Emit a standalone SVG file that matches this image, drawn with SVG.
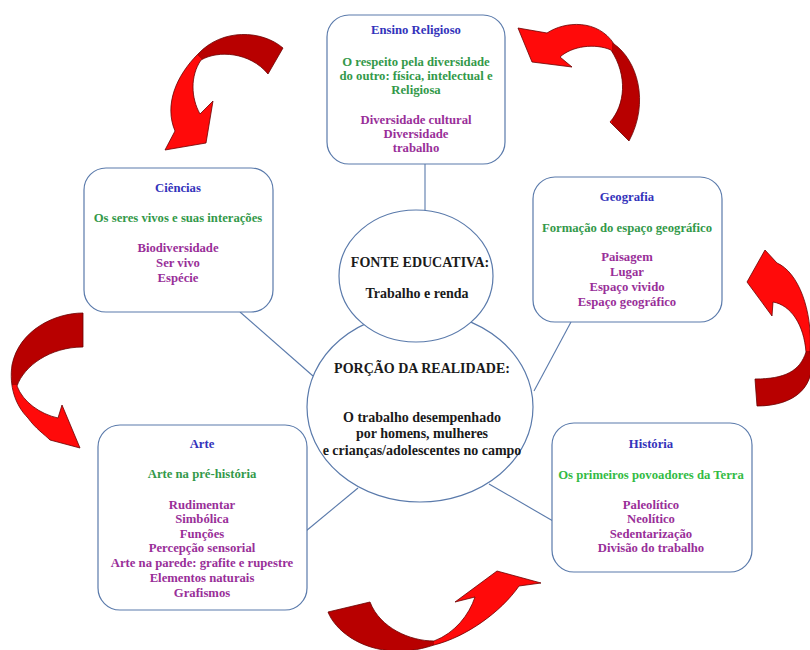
<svg xmlns="http://www.w3.org/2000/svg" width="810" height="650" viewBox="0 0 810 650">
<defs>
<style>
.box{fill:#fff;stroke:#5a7aab;stroke-width:1.2}
.circ{fill:#fff;stroke:#5a7aab;stroke-width:1.2}
.con{stroke:#5a7aab;stroke-width:1.1;fill:none}
text{font-family:"Liberation Serif","Times New Roman",serif;font-weight:bold;text-anchor:middle}
.t{font-size:12.7px;fill:#3333bb}
.g{font-size:12.7px;fill:#33994a}
.g2{font-size:12.7px;fill:#33bb44}
.p{font-size:12.7px;fill:#992f99}
.k{font-size:14px;fill:#1a1a1a}
.arrow{stroke:#6a0000;stroke-width:0.8;stroke-linejoin:round}
</style>
<linearGradient id="a1" gradientUnits="userSpaceOnUse" x1="283" y1="40" x2="180" y2="120">
<stop offset="0" stop-color="#b80000"/><stop offset="0.585" stop-color="#b80000"/><stop offset="0.585" stop-color="#ff0a0a"/><stop offset="1" stop-color="#ff0a0a"/>
</linearGradient>
<linearGradient id="a2" gradientUnits="userSpaceOnUse" x1="518" y1="0" x2="645" y2="0">
<stop offset="0" stop-color="#ff0a0a"/><stop offset="0.74" stop-color="#ff0a0a"/><stop offset="0.74" stop-color="#b80000"/><stop offset="1" stop-color="#b80000"/>
</linearGradient>
<linearGradient id="a3" gradientUnits="userSpaceOnUse" x1="0" y1="250" x2="0" y2="406">
<stop offset="0" stop-color="#ff0a0a"/><stop offset="0.65" stop-color="#ff0a0a"/><stop offset="0.65" stop-color="#b80000"/><stop offset="1" stop-color="#b80000"/>
</linearGradient>
<linearGradient id="a4" gradientUnits="userSpaceOnUse" x1="0" y1="313" x2="0" y2="448">
<stop offset="0" stop-color="#b80000"/><stop offset="0.53" stop-color="#b80000"/><stop offset="0.53" stop-color="#ff0a0a"/><stop offset="1" stop-color="#ff0a0a"/>
</linearGradient>
<linearGradient id="a5" gradientUnits="userSpaceOnUse" x1="328" y1="0" x2="541" y2="0">
<stop offset="0" stop-color="#b80000"/><stop offset="0.5" stop-color="#b80000"/><stop offset="0.5" stop-color="#ff0a0a"/><stop offset="1" stop-color="#ff0a0a"/>
</linearGradient>
</defs>
<rect x="0" y="0" width="810" height="650" fill="#fff"/>

<g id="connectors">
<line class="con" x1="425" y1="164" x2="425" y2="211"/>
<line class="con" x1="240" y1="312" x2="313" y2="376"/>
<line class="con" x1="571" y1="322" x2="534" y2="391"/>
<line class="con" x1="306" y1="531" x2="358" y2="488"/>
<line class="con" x1="553" y1="521" x2="489" y2="484"/>
</g>

<g id="arrows">
<path class="arrow" fill="url(#a1)" d="M 283,48 C 262,30 222,28 198,54 C 176,76 164,105 175,131 L 165,150 L 206,143 L 213,101 L 200,114 C 191,98 190,76 201,60 C 218,50 250,52 268,74 Z"/>
<path class="arrow" fill="url(#a2)" d="M 518,28 L 547,33 C 565,21 598,19 614,44 C 637,60 650,102 629,141 L 610,122 C 625,105 628,76 611,50 C 595,43 572,46 560,57 L 572,67 L 532,62 Z"/>
<path class="arrow" fill="url(#a3)" d="M 765,250 L 747,282 L 772,316 L 773,302 C 791,305 804,325 806,352 C 800,371 785,379 755,379 L 757,406 C 795,406 818,386 810,352 C 813,310 798,272 777,263 Z"/>
<path class="arrow" fill="url(#a4)" d="M 83,313 C 55,313 19,330 12,365 C 9,386 15,405 28,418 C 35,428 45,435 50,440 L 80,448 L 62,405 L 58,418 C 40,414 23,402 17,386 C 24,366 50,347 83,347 Z"/>
<path class="arrow" fill="url(#a5)" d="M 328,612 C 335,630 360,650 395,651 C 410,652 425,648 434,645 C 466,637 501,612 519,586 L 541,583 L 497,571 L 455,602 L 475,597 C 469,615 455,633 434,641 C 410,641 380,628 370,602 Z"/>
</g>

<g id="porcao">
<ellipse class="circ" cx="420" cy="407" rx="113" ry="95"/>
<text class="k" x="422" y="373">PORÇÃO DA REALIDADE:</text>
<text class="k" x="422" y="422">O trabalho desempenhado</text>
<text class="k" x="422" y="438">por homens, mulheres</text>
<text class="k" x="422" y="455">e crianças/adolescentes no campo</text>
</g>

<g id="fonte">
<ellipse class="circ" cx="416" cy="276" rx="77" ry="66"/>
<text class="k" x="420" y="267">FONTE EDUCATIVA:</text>
<text class="k" x="417" y="298">Trabalho e renda</text>
</g>

<g id="ensino">
<rect class="box" x="327" y="15" width="178" height="149" rx="22"/>
<text class="t" x="416" y="34">Ensino Religioso</text>
<text class="g" x="416" y="66">O respeito pela diversidade</text>
<text class="g" x="416" y="80">do outro: física, intelectual e</text>
<text class="g" x="416" y="94">Religiosa</text>
<text class="p" x="416" y="124">Diversidade cultural</text>
<text class="p" x="416" y="138">Diversidade</text>
<text class="p" x="416" y="152">trabalho</text>
</g>

<g id="ciencias">
<rect class="box" x="84" y="168" width="189" height="144" rx="22"/>
<text class="t" x="178" y="192">Ciências</text>
<text class="g" x="178" y="222">Os seres vivos e suas interações</text>
<text class="p" x="178" y="252">Biodiversidade</text>
<text class="p" x="178" y="267">Ser vivo</text>
<text class="p" x="178" y="282">Espécie</text>
</g>

<g id="geografia">
<rect class="box" x="533" y="177" width="189" height="145" rx="22"/>
<text class="t" x="627" y="201">Geografia</text>
<text class="g" x="627" y="232">Formação do espaço geográfico</text>
<text class="p" x="627" y="261">Paisagem</text>
<text class="p" x="627" y="276">Lugar</text>
<text class="p" x="627" y="291">Espaço vivido</text>
<text class="p" x="627" y="306">Espaço geográfico</text>
</g>

<g id="arte">
<rect class="box" x="98" y="425" width="209" height="185" rx="22"/>
<text class="t" x="202" y="448">Arte</text>
<text class="g" x="202" y="478">Arte na pré-história</text>
<text class="p" x="202" y="509">Rudimentar</text>
<text class="p" x="202" y="523">Simbólica</text>
<text class="p" x="202" y="538">Funções</text>
<text class="p" x="202" y="552">Percepção sensorial</text>
<text class="p" x="202" y="567">Arte na parede: grafite e rupestre</text>
<text class="p" x="202" y="582">Elementos naturais</text>
<text class="p" x="202" y="597">Grafismos</text>
</g>

<g id="historia">
<rect class="box" x="552" y="423" width="200" height="149" rx="22"/>
<text class="t" x="651" y="448">História</text>
<text class="g2" x="651" y="479">Os primeiros povoadores da Terra</text>
<text class="p" x="651" y="509">Paleolítico</text>
<text class="p" x="651" y="523">Neolítico</text>
<text class="p" x="651" y="538">Sedentarização</text>
<text class="p" x="651" y="552">Divisão do trabalho</text>
</g>
</svg>
